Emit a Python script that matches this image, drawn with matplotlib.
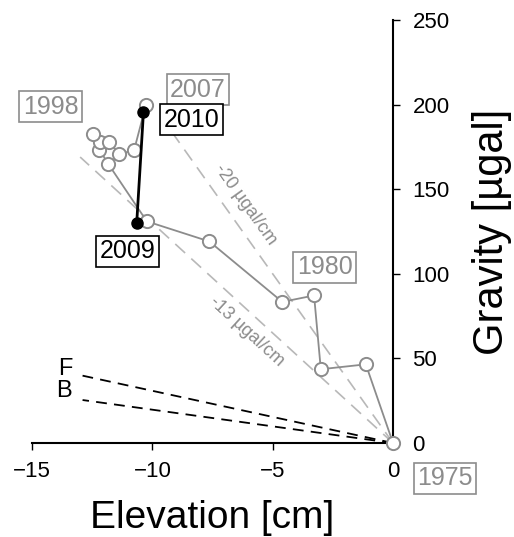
import matplotlib.pyplot as plt

plt.rcParams['font.family'] = ['Liberation Sans', 'DejaVu Sans']

# Gravity change vs elevation change, 1975 -> 2007
elev = [0.0, -1.13, -3.0, -3.28, -4.6, -7.63, -10.23, -11.83, -12.2, -12.17,
        -12.48, -11.79, -11.37, -10.76, -10.27]
grav = [0.0, 46.5, 43.6, 87.2, 83.4, 119.1, 131.0, 164.9, 173.4, 177.9,
        182.8, 177.9, 170.8, 173.0, 199.6]

# 2009 -> 2010
elev_new = [-10.65, -10.37]
grav_new = [130.0, 195.4]

# reference gradients (ugal/cm)
grad_obs = [-20, -13]
grad_obs_end = [-9.3, -13.0]
grad_theory = {"F": -3.086, "B": -1.97}
theory_end = -12.9

years = ["1975", "1980", "1998", "2007", "2009", "2010"]
year_x = [2.16, -2.84, -14.23, -8.1, -11.03, -8.36]
year_y = [-20.8, 104.0, 198.8, 208.9, 113.3, 191.1]
year_col = ["#8c8c8c", "#8c8c8c", "#8c8c8c", "#8c8c8c", "black", "black"]

gray = "#8c8c8c"
fig = plt.figure(figsize=(5.14, 5.37), dpi=100)
ax = fig.add_axes([0.0623, 0.175, 0.7023, 0.7878])

# observed gradient lines
for g, xe in zip(grad_obs, grad_obs_end):
    ax.plot([0, xe], [0, g * xe], ls=(0, (8, 5)), color="#b8b8b8", lw=1.2,
            clip_on=False, zorder=1)
ax.text(-6.15, 140.8, "-20 µgal/cm", rotation=-54.5, color=gray, fontsize=13,
        ha="center", va="center", rotation_mode="anchor")
ax.text(-6.1, 66.0, "-13 µgal/cm", rotation=-42.4, color=gray, fontsize=13,
        ha="center", va="center", rotation_mode="anchor")

# free-air and Bouguer gradients
for lab, g in grad_theory.items():
    ax.plot([0, theory_end], [0, g * theory_end], ls=(0, (6, 4)), color="black",
            lw=1.3, clip_on=False, zorder=1)
ax.text(-13.6, 43.6, "F", fontsize=17, ha="center", va="center")
ax.text(-13.66, 31.0, "B", fontsize=17, ha="center", va="center")

ax.plot(elev, grav, "-o", color=gray, lw=1.3, ms=9.5, mfc="white", mec=gray,
        mew=1.4, clip_on=False, zorder=3)
ax.plot(elev_new, grav_new, "-o", color="black", lw=2.0, ms=8, mfc="black",
        mec="black", clip_on=False, zorder=4)

for t, x, y, c in zip(years, year_x, year_y, year_col):
    ax.text(x, y, t, color=c, fontsize=18, ha="center", va="center", zorder=5,
            bbox=dict(boxstyle="square,pad=0.14", fc="white", ec=c, lw=1.2),
            clip_on=False)

ax.set_xlim(-15, 0)
ax.set_ylim(0, 250)
for s in ["left", "top"]:
    ax.spines[s].set_visible(False)
for s in ["bottom", "right"]:
    ax.spines[s].set_linewidth(1.5)
ax.yaxis.tick_right()
ax.yaxis.set_label_position("right")
ax.set_xticks([-15, -10, -5, 0])
ax.set_xticklabels(["\u221215", "\u221210", "\u22125", "0"])
ax.set_yticks([0, 50, 100, 150, 200, 250])
ax.tick_params(axis="both", labelsize=16, length=5, width=1.0, direction="out")
ax.tick_params(axis="y", pad=9)
ax.tick_params(axis="x", pad=8)
ax.set_xlabel("Elevation [cm]", fontsize=28, labelpad=13)
ax.set_ylabel("Gravity [µgal]", fontsize=30, labelpad=16)
ax.patch.set_visible(False)

fig.savefig("out.png", dpi=100)
